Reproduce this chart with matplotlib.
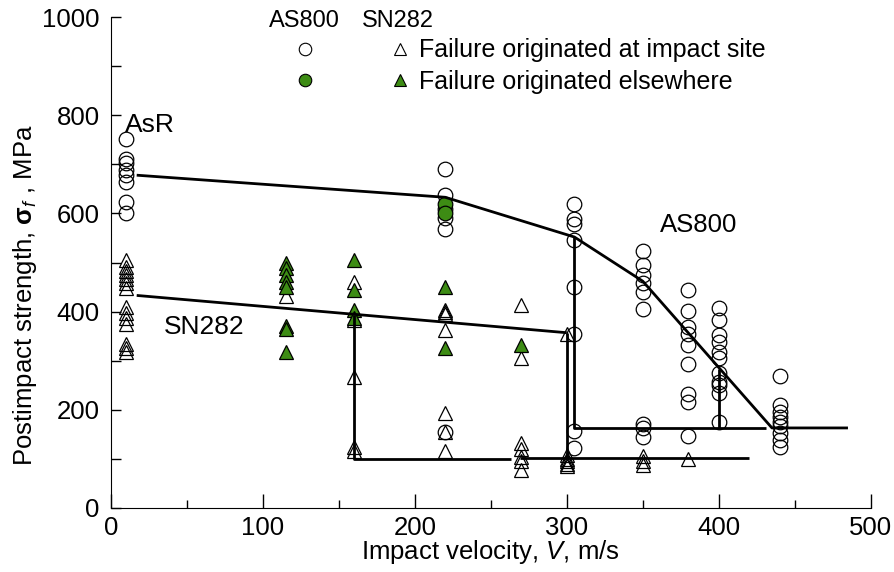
import matplotlib
matplotlib.use('Agg')
from matplotlib import pyplot as plt
from matplotlib.lines import Line2D
from matplotlib.legend_handler import HandlerTuple
from matplotlib.ticker import MultipleLocator

plt.rcParams['font.family'] = ['Liberation Sans', 'DejaVu Sans']
plt.rcParams['mathtext.fontset'] = 'custom'
plt.rcParams['mathtext.rm'] = 'Liberation Sans'
plt.rcParams['mathtext.it'] = 'Liberation Sans:italic'
plt.rcParams['mathtext.bf'] = 'Liberation Sans:bold'

GREEN = '#3d8c14'

# AS800 (circles): velocity -> strengths, open = failure at impact site
as800_open = {
    10: [752, 712, 702, 688, 678, 665, 624, 600],
    220: [690, 638, 610, 590, 568, 155],
    305: [620, 588, 578, 545, 450, 355, 157, 122],
    350: [523, 496, 475, 458, 441, 405, 172, 162, 145],
    380: [445, 401, 369, 354, 332, 293, 232, 215, 147],
    400: [407, 383, 352, 339, 318, 306, 274, 257, 250, 235, 175],
    440: [269, 210, 196, 186, 176, 166, 152, 138, 125],
}
as800_green = {
    220: [620, 600],
}

# SN282 (triangles)
sn282_open = {
    10: [505, 490, 482, 474, 466, 458, 449, 410, 397, 386, 374, 335, 326, 318],
    115: [432],
    160: [461, 383, 267, 125, 117],
    220: [404, 400, 396, 363, 193, 155, 116],
    270: [413, 305, 132, 120, 104, 96, 78],
    300: [355, 108, 100, 95, 90, 86],
    350: [105, 95, 88],
    380: [99],
}
sn282_green = {
    115: [500, 488, 474, 461, 451, 371, 364, 318],
    160: [505, 444, 403, 388],
    220: [451, 326],
    270: [332],
}

# trend lines
as800_trend_v = [17, 220, 305, 350, 435, 485]
as800_trend_s = [678, 633, 552, 462, 163, 163]
as800_step_v = [305, 305, 431]
as800_step_s = [552, 162, 162]
as800_drop_v = [400, 400]
as800_drop_s = [284, 162]

sn282_trend_v = [17, 300]
sn282_trend_s = [433, 357]
sn282_step1_v = [160, 160, 263]
sn282_step1_s = [394, 100, 100]
sn282_step2_v = [269, 420]
sn282_step2_s = [101, 101]
sn282_drop_v = [300, 300]
sn282_drop_s = [357, 101]


def flatten(groups):
    xs, ys = [], []
    for v, vals in groups.items():
        xs += [v] * len(vals)
        ys += vals
    return xs, ys


fig = plt.figure(figsize=(8.94, 5.72), dpi=100)
ax = fig.add_axes([0.124, 0.112, 0.850, 0.858])

ms = 10.5
mew = 0.9
for groups, marker, face in [(as800_open, 'o', 'none'), (as800_green, 'o', GREEN),
                             (sn282_open, '^', 'none'), (sn282_green, '^', GREEN)]:
    x, y = flatten(groups)
    ax.plot(x, y, linestyle='none', marker=marker, ms=ms, mfc=face,
            mec='black', mew=mew, zorder=2)

lw = 2.0
for vx, sy in [(as800_trend_v, as800_trend_s), (as800_step_v, as800_step_s),
               (as800_drop_v, as800_drop_s), (sn282_trend_v, sn282_trend_s),
               (sn282_step1_v, sn282_step1_s), (sn282_step2_v, sn282_step2_s),
               (sn282_drop_v, sn282_drop_s)]:
    ax.plot(vx, sy, color='black', lw=lw, solid_capstyle='butt', zorder=3)

ax.set_xlim(0, 500)
ax.set_ylim(0, 1000)
ax.xaxis.set_major_locator(MultipleLocator(100))
ax.xaxis.set_minor_locator(MultipleLocator(50))
ax.yaxis.set_major_locator(MultipleLocator(200))
ax.yaxis.set_minor_locator(MultipleLocator(100))
ax.tick_params(which='both', direction='in', labelsize=18.5, width=1)
ax.tick_params(axis='x', which='major', length=10, pad=6)
ax.tick_params(axis='x', which='minor', length=6)
ax.tick_params(axis='y', which='both', length=7, pad=8)
for side in ['top', 'right']:
    ax.spines[side].set_visible(False)

ax.set_xlabel('Impact velocity, $\\mathit{V}$, m/s', fontsize=18.5)
ax.set_ylabel('Postimpact strength, $\\mathbf{\\sigma}_{\\mathit{f}}$ , MPa',
              fontsize=18.5)
ax.xaxis.set_label_coords(0.5, -0.09, transform=ax.transAxes)
ax.yaxis.set_label_coords(-0.113, 0.434, transform=ax.transAxes)
ax.xaxis.label.set_va('center')
ax.yaxis.label.set_va('center')

ax.text(9, 780, 'AsR', fontsize=19, va='center')
ax.text(35, 369, 'SN282', fontsize=19, va='center')
ax.text(361, 576, 'AS800', fontsize=18.5, va='center')

# legend
ax.text(0.255, 0.992, 'AS800', transform=ax.transAxes, fontsize=17,
        ha='center', va='center')
ax.text(0.378, 0.992, 'SN282', transform=ax.transAxes, fontsize=17,
        ha='center', va='center')
lm = 9
h_open = (Line2D([], [], ls='none', marker='o', ms=lm, mfc='none', mec='black', mew=0.8),
          Line2D([], [], ls='none', marker='^', ms=lm, mfc='none', mec='black', mew=0.8))
h_green = (Line2D([], [], ls='none', marker='o', ms=lm, mfc=GREEN, mec='black', mew=0.8),
           Line2D([], [], ls='none', marker='^', ms=lm, mfc=GREEN, mec='black', mew=0.8))
ax.legend([h_open, h_green],
          ['Failure originated at impact site', 'Failure originated elsewhere'],
          handler_map={tuple: HandlerTuple(ndivide=None, pad=3.5)},
          handlelength=4.1, handletextpad=0.6, labelspacing=0.3,
          frameon=False, fontsize=18, borderpad=0, borderaxespad=0,
          loc='upper left', bbox_to_anchor=(0.251, 0.957))

fig.savefig('out.png', dpi=100)
